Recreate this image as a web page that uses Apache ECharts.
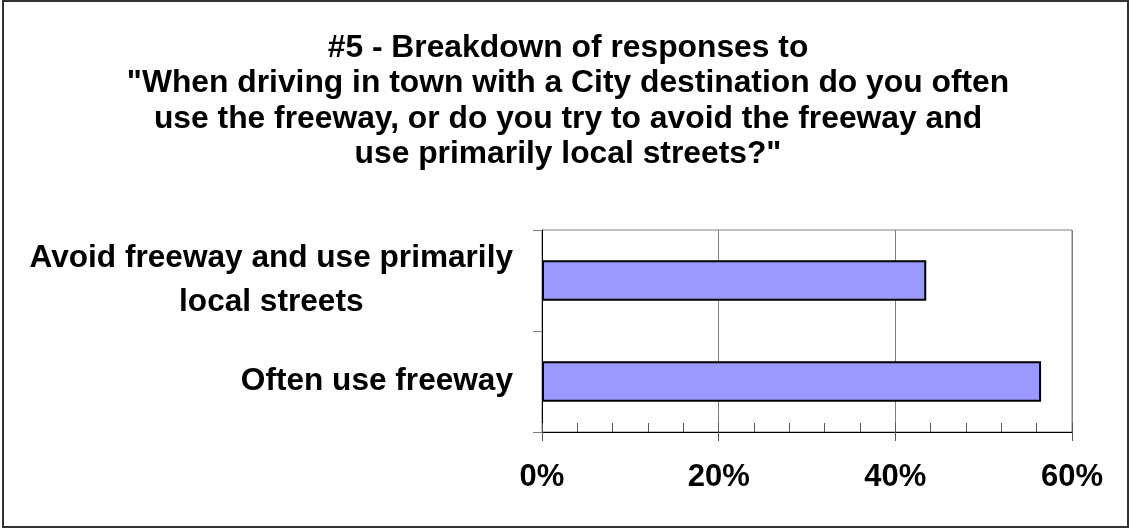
<!DOCTYPE html>
<html>
<head>
<meta charset="utf-8">
<script src="https://cdn.jsdelivr.net/npm/echarts@6/dist/echarts.min.js"></script>
<style>
  html, body { margin: 0; padding: 0; background: #fff; }
  #chart { width: 1130px; height: 529px; }
</style>
</head>
<body>
<div id="chart"></div>
<script>
// Survey question #5 – share of respondents per answer (percent)
const titleLines = [
  '#5 - Breakdown of responses to',
  '"When driving in town with a City destination do you often',
  'use the freeway, or do you try to avoid the freeway and',
  'use primarily local streets?"'
];
const categories = [
  'Often use freeway',
  'Avoid freeway and use primarily\nlocal streets'
];
const shares = [56.5, 43.5];
const axisMin = 0;
const axisMax = 60;
const axisStep = 20;

const FONT = 'Arial, "Liberation Sans", sans-serif';

const chart = echarts.init(document.getElementById('chart'), null, { renderer: 'canvas' });

chart.setOption({
  backgroundColor: '#fff',
  animation: false,
  title: {
    text: titleLines.join('\n'),
    left: 563,
    textAlign: 'center',
    top: 25,
    textStyle: {
      fontFamily: FONT,
      fontWeight: 'bold',
      fontSize: 31.8,
      lineHeight: 35.6,
      color: '#000'
    }
  },
  graphic: [{
    type: 'rect',
    shape: { x: 3, y: 1, width: 1125, height: 526 },
    style: { fill: 'none', stroke: '#333', lineWidth: 2 },
    z: 100
  }],
  grid: {
    left: 542, right: 58, top: 230, bottom: 97,
    show: true, borderColor: '#808080', borderWidth: 1,
    containLabel: false
  },
  xAxis: [{
    type: 'value',
    position: 'bottom',
    min: axisMin, max: axisMax, interval: axisStep,
    axisLine: { show: true, lineStyle: { color: '#000', width: 1 } },
    axisTick: { show: true, inside: true, length: 9, lineStyle: { color: '#555' } },
    minorTick: { show: true, splitNumber: 5, length: 9, lineStyle: { color: '#555' } },
    splitLine: { show: true, lineStyle: { color: '#808080', width: 1 } },
    axisLabel: {
      formatter: '{value}%',
      margin: 30,
      fontFamily: FONT, fontWeight: 'bold', fontSize: 31, color: '#000'
    }
  }, {
    // outward halves of the major ticks
    type: 'value',
    position: 'bottom',
    min: axisMin, max: axisMax, interval: axisStep,
    axisLine: { show: false },
    axisTick: { show: true, inside: false, length: 9, lineStyle: { color: '#555' } },
    splitLine: { show: false },
    axisLabel: { show: false }
  }],
  yAxis: {
    type: 'category',
    data: categories,
    axisLine: { show: true, lineStyle: { color: '#000', width: 1 } },
    axisTick: { show: true, length: 9, lineStyle: { color: '#808080' } },
    axisLabel: {
      margin: 29,
      align: 'right',
      fontFamily: FONT, fontWeight: 'bold', fontSize: 31.6, lineHeight: 44, color: '#000',
      formatter: function (v) {
        return v.split('\n').map(function (s) { return '{c|' + s + '}'; }).join('\n');
      },
      rich: {
        c: { align: 'center', fontFamily: FONT, fontWeight: 'bold', fontSize: 31.6, lineHeight: 44, color: '#000' }
      }
    }
  },
  series: [{
    type: 'bar',
    xAxisIndex: 0,
    data: shares,
    barWidth: '40%',
    itemStyle: { color: '#9999FF', borderColor: '#000', borderWidth: 2 }
  }]
});
</script>
</body>
</html>
